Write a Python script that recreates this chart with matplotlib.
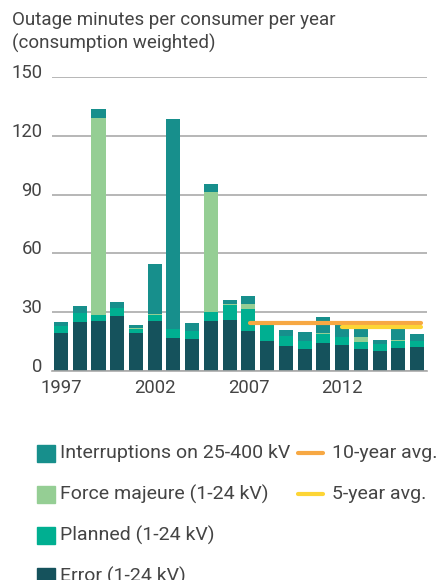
import numpy as np
import matplotlib
matplotlib.use('Agg')
import matplotlib.pyplot as plt
import matplotlib.transforms as mtransforms
from matplotlib.patches import Rectangle
from matplotlib.lines import Line2D

plt.rcParams['font.family'] = ['Roboto', 'DejaVu Sans']

years = np.arange(1997, 2017)
error = [19.5, 25.0, 25.5, 28.0, 19.4, 25.5, 16.9, 16.4, 25.5, 26.0,
         20.4, 15.3, 12.8, 11.2, 14.3, 13.3, 11.2, 10.2, 11.7, 12.3]
planned = [3.7, 4.5, 3.0, 4.0, 2.2, 3.1, 4.6, 4.2, 4.7, 7.6,
           11.3, 8.2, 5.1, 4.1, 4.6, 4.1, 3.6, 3.6, 3.6, 3.0]
force = [0.0, 0.3, 100.7, 0.0, 0.3, 0.3, 0.0, 0.0, 61.3, 0.4,
         2.5, 0.0, 0.0, 0.0, 0.5, 0.0, 2.6, 0.0, 0.5, 0.0]
interr = [1.8, 3.2, 4.6, 3.1, 1.4, 25.8, 107.3, 3.9, 4.1, 2.2,
          4.1, 0.6, 3.0, 4.6, 8.2, 6.6, 4.6, 2.0, 5.7, 3.6]

avg10 = 24.5
avg10_span = (2007.1, 2016.2)
avg5 = 22.5
avg5_span = (2012.0, 2016.2)

c_int = '#178f8c'
c_force = '#95ce94'
c_plan = '#00af91'
c_err = '#15525c'
c_10 = '#f7a843'
c_5 = '#fdd535'
c_text = '#444444'
c_grid = '#aaaaaa'

fig = plt.figure(figsize=(4.38, 5.80), dpi=100)
ax = fig.add_axes([52 / 438, 1 - 371 / 580, 375 / 438, 294 / 580])

w = 0.75
b1 = np.array(error)
b2 = b1 + np.array(planned)
b3 = b2 + np.array(force)
ax.bar(years, error, w, color=c_err, zorder=2)
ax.bar(years, planned, w, bottom=b1, color=c_plan, zorder=2)
ax.bar(years, force, w, bottom=b2, color=c_force, zorder=2)
ax.bar(years, interr, w, bottom=b3, color=c_int, zorder=2)

ax.plot(avg10_span, [avg10, avg10], color=c_10, lw=3, solid_capstyle='round', zorder=3)
ax.plot(avg5_span, [avg5, avg5], color=c_5, lw=3, solid_capstyle='round', zorder=3)

ax.set_xlim(1996.52, 2016.53)
ax.set_ylim(0, 150)
ax.set_yticks([0, 30, 60, 90, 120, 150])
ax.set_xticks([1997, 2002, 2007, 2012])
ax.yaxis.grid(True, color=c_grid, lw=1.2, zorder=0)
ax.set_axisbelow(True)
for s in ['top', 'right', 'left']:
    ax.spines[s].set_visible(False)
ax.spines['bottom'].set_color(c_grid)
ax.spines['bottom'].set_linewidth(1.2)
ax.tick_params(axis='both', length=0, labelsize=13.3, colors=c_text)
ax.tick_params(axis='y', pad=7)
ax.tick_params(axis='x', pad=6)
off = mtransforms.ScaledTranslation(0, -1 / 100, fig.dpi_scale_trans)
for lab in ax.get_yticklabels():
    lab.set_verticalalignment('baseline')
    lab.set_transform(lab.get_transform() + off)
    lab.set_clip_on(False)

fig.text(12 / 438, 1 - 32 / 580, 'Outage minutes per consumer per year\n(consumption weighted)',
         fontsize=13.5, color=c_text, va='center', ha='left', linespacing=1.3)

# legend, drawn by hand
left_labels = ['Interruptions on 25-400 kV', 'Force majeure (1-24 kV)',
               'Planned (1-24 kV)', 'Error (1-24 kV)']
left_cols = [c_int, c_force, c_plan, c_err]
right_labels = ['10-year avg.', '5-year avg.']
right_cols = [c_10, c_5]
row_y = [453, 494, 535, 576]
for i, (lab, col) in enumerate(zip(left_labels, left_cols)):
    y = row_y[i]
    fig.add_artist(Rectangle((37 / 438, 1 - (y + 9) / 580), 18 / 438, 17 / 580,
                             transform=fig.transFigure, color=col))
    fig.text(60 / 438, 1 - y / 580, lab, fontsize=14, color=c_text, va='center', ha='left')
for i, (lab, col) in enumerate(zip(right_labels, right_cols)):
    y = row_y[i]
    fig.add_artist(Line2D([298 / 438, 323 / 438], [1 - y / 580, 1 - y / 580],
                          transform=fig.transFigure, color=col, lw=3, solid_capstyle='round'))
    fig.text(332 / 438, 1 - y / 580, lab, fontsize=14, color=c_text, va='center', ha='left')

fig.savefig('out.png', dpi=100)
